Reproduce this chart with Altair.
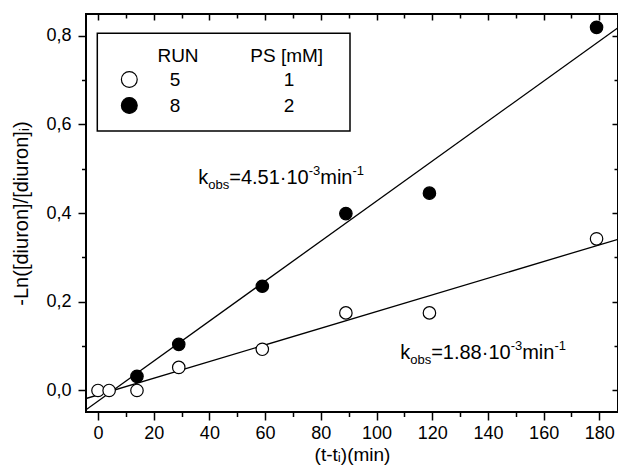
import altair as alt
import pandas as pd

# ---------------- data ----------------
t_run5 = [0, 4, 14, 29, 59, 89, 119, 179]
y_run5 = [0.0, 0.0, 0.0, 0.052, 0.093, 0.175, 0.175, 0.342]
t_run8 = [14, 29, 59, 89, 119, 179]
y_run8 = [0.032, 0.104, 0.235, 0.399, 0.445, 0.819]

runs = ["5", "8"]
ps_mM = ["1", "2"]

fit_slope = [0.00188, 0.00451]
fit_intercept = [-0.010, -0.024]

k_values = ["1.88", "4.51"]
k_anchor_t = [108.5, 36.0]
k_anchor_y = [0.072, 0.465]

x_ticks = list(range(0, 181, 10))
y_ticks = [0.0, 0.1, 0.2, 0.3, 0.4, 0.5, 0.6, 0.7, 0.8]
x_domain = [-4.3, 186.7]
y_domain = [-0.0485, 0.849]

# ---------------- layout / style ----------------
W, H = 532, 398
FONT = "Liberation Sans, Arial, sans-serif"
xs = alt.Scale(domain=x_domain, nice=False, zero=False)
ys = alt.Scale(domain=y_domain, nice=False, zero=False)

x_major = "datum.value % 20 == 0"
y_major = "abs(round(datum.value * 10)) % 2 == 0"

x_axis = alt.Axis(
    orient="bottom",
    values=x_ticks, labelExpr=f"{x_major} ? datum.label : ''",
    tickSize={"condition": {"test": x_major, "value": 8}, "value": 4.5},
    domain=False, grid=False, tickColor="black", tickWidth=1.5,
    labelFont=FONT, labelFontSize=18, labelColor="black", labelPadding=4,
    labelFlush=False, labelOverlap=False,
    title="(t-tᵢ)(min)", titleFont=FONT, titleFontSize=19,
    titleFontWeight="normal", titleColor="black", titlePadding=3,
)
y_axis = alt.Axis(
    orient="left",
    values=y_ticks,
    labelExpr=f"{y_major} ? replace(format(datum.value, '.1f'), '.', ',') : ''",
    tickSize={"condition": {"test": y_major, "value": 8}, "value": 4.5},
    domain=False, grid=False, tickColor="black", tickWidth=1.5,
    labelFont=FONT, labelFontSize=18, labelColor="black", labelPadding=7,
    labelFlush=False, labelOverlap=False,
    title="-Ln([diuron]/[diuron]ᵢ)", titleFont=FONT, titleFontSize=20,
    titleFontWeight="normal", titleColor="black", titlePadding=14,
)
x_axis_in = alt.Axis(
    orient="bottom", offset=-H, values=x_ticks, labels=False, domain=False,
    grid=False, title=None, tickColor="black", tickWidth=1.5,
    tickSize={"condition": {"test": x_major, "value": 6}, "value": 4},
)
y_axis_in = alt.Axis(
    orient="left", offset=-W, values=y_ticks, labels=False, domain=False,
    grid=False, title=None, tickColor="black", tickWidth=1.5,
    tickSize={"condition": {"test": y_major, "value": 6}, "value": 4},
)

# ---------------- tables ----------------
pts = pd.DataFrame({
    "t": t_run5 + t_run8,
    "v": y_run5 + y_run8,
    "run": [runs[0]] * len(t_run5) + [runs[1]] * len(t_run8),
})
fit_rows = []
for s, b, r in zip(fit_slope, fit_intercept, runs):
    for t in x_domain:
        fit_rows.append({"t": t, "v": s * t + b, "run": r})
fits = pd.DataFrame(fit_rows)

lines = alt.Chart(fits).mark_line(color="black", strokeWidth=1.3, clip=True).encode(
    x=alt.X("t:Q", scale=xs, axis=x_axis_in),
    y=alt.Y("v:Q", scale=ys, axis=y_axis_in),
    detail="run:N",
)

points = alt.Chart(pts).mark_circle(size=155, stroke="black", strokeWidth=1.2, opacity=1).encode(
    x=alt.X("t:Q", scale=xs, axis=x_axis),
    y=alt.Y("v:Q", scale=ys, axis=y_axis),
    fill=alt.Fill("run:N", scale=alt.Scale(domain=runs, range=["white", "black"]), legend=None),
)

# ---------------- legend box ----------------
one = pd.DataFrame({"a": [0]})
legend_layers = [
    alt.Chart(one).mark_rect(fill="white", stroke="black", strokeWidth=1.5).encode(
        x=alt.value(11.3), x2=alt.value(264), y=alt.value(19.3), y2=alt.value(117)
    ),
    alt.Chart(one).mark_text(font=FONT, fontSize=19, color="black").encode(
        x=alt.value(92), y=alt.value(41.5), text=alt.value("RUN")
    ),
    alt.Chart(one).mark_text(font=FONT, fontSize=19, color="black").encode(
        x=alt.value(200.7), y=alt.value(41.5), text=alt.value("PS [mM]")
    ),
]
row_y = [65.5, 91.5]
row_fill = ["white", "black"]
for r, p, yy, f in zip(runs, ps_mM, row_y, row_fill):
    legend_layers.append(
        alt.Chart(one).mark_circle(size=250, fill=f, stroke="black", strokeWidth=1.2, opacity=1).encode(
            x=alt.value(43.3), y=alt.value(yy)
        )
    )
    legend_layers.append(
        alt.Chart(one).mark_text(font=FONT, fontSize=19, color="black").encode(
            x=alt.value(89), y=alt.value(yy), text=alt.value(r)
        )
    )
    legend_layers.append(
        alt.Chart(one).mark_text(font=FONT, fontSize=19, color="black").encode(
            x=alt.value(203), y=alt.value(yy), text=alt.value(p)
        )
    )

# ---------------- k_obs annotations ----------------
AW = {"k": .5, "o": .556, "b": .556, "s": .5, "=": .584, "4": .556, ".": .278,
      "5": .556, "1": .556, "·": .333, "0": .556, "-": .333, "3": .556,
      "m": .833, "i": .222, "n": .556, "8": .556}
MAIN, SMALL = 20, 13


def width(txt, size):
    return sum(AW.get(c, .556) for c in txt) * size


ann_layers = []
for kv, at, av in zip(k_values, k_anchor_t, k_anchor_y):
    anchor = pd.DataFrame({"t": [at], "v": [av]})
    pieces = [("k", MAIN, 0), ("obs", SMALL, 5), (f"={kv}·10", MAIN, 0),
              ("-3", SMALL, -9), ("min", MAIN, 0), ("-1", SMALL, -9)]
    dx = 0.0
    for txt, size, dy in pieces:
        ann_layers.append(
            alt.Chart(anchor).mark_text(
                font=FONT, fontSize=size, color="black", align="left",
                baseline="alphabetic", dx=dx, dy=dy,
            ).encode(
                x=alt.X("t:Q", scale=xs, axis=None),
                y=alt.Y("v:Q", scale=ys, axis=None),
                text=alt.value(txt),
            )
        )
        dx += width(txt, size)

chart = (
    alt.layer(lines, points, *legend_layers, *ann_layers)
    .resolve_axis(x="independent", y="independent")
    .properties(
        width=W, height=H,
        autosize=alt.AutoSizeParams(type="none"),
        padding={"left": 78, "top": 6, "right": 0, "bottom": 55},
        background="white",
    )
    .configure_view(stroke="black", strokeWidth=2)
)

chart.save("out.html", embed_options={"renderer": "svg", "actions": False})
